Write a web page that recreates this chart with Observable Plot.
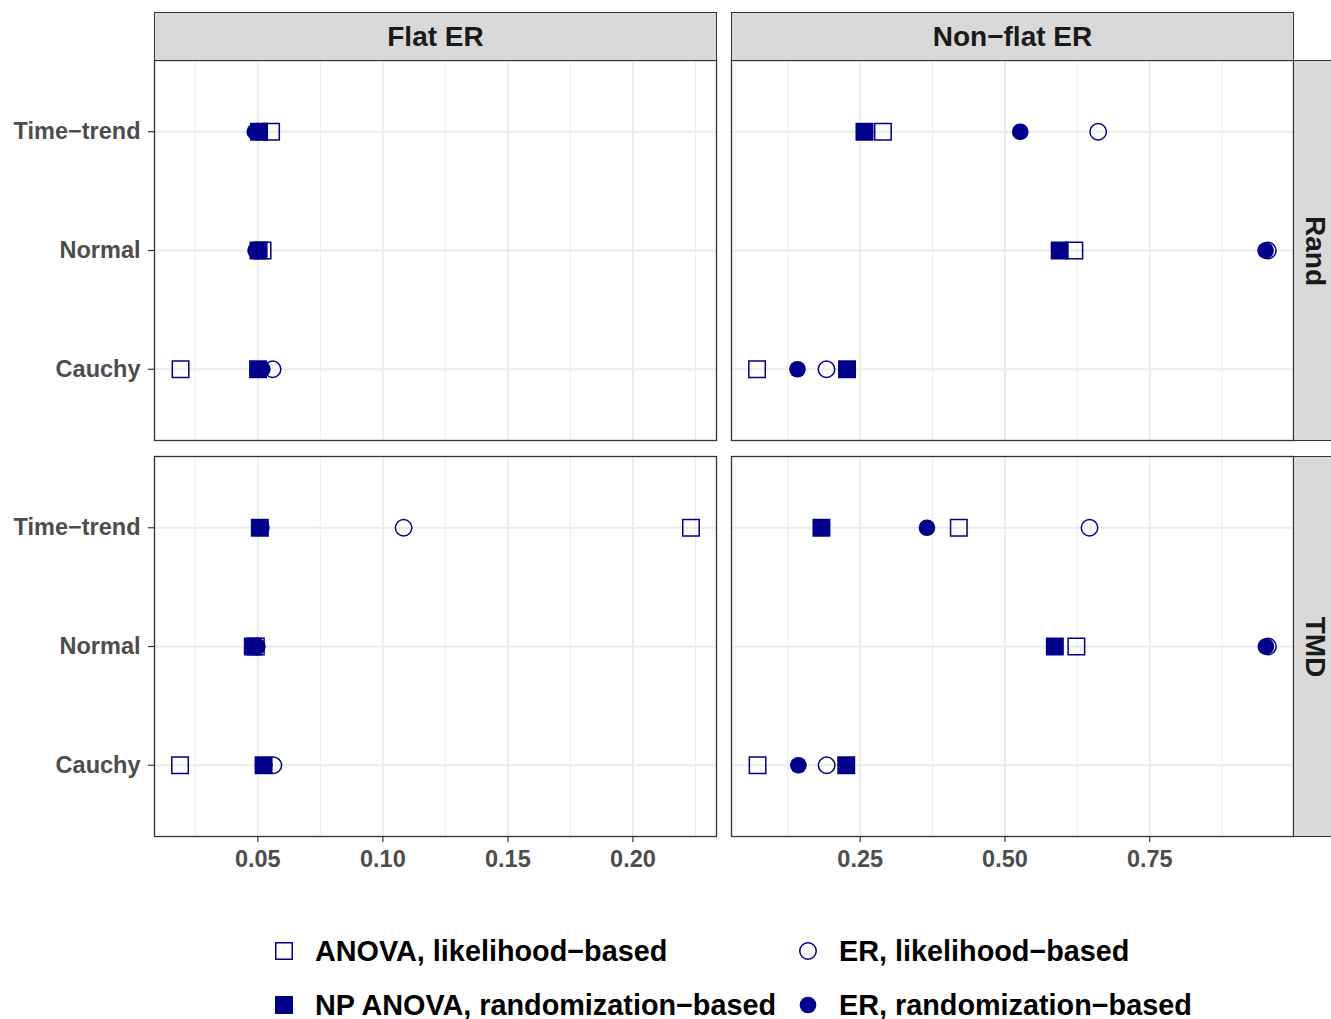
<!DOCTYPE html>
<html>
<head>
<meta charset="utf-8">
<script src="https://cdn.jsdelivr.net/npm/d3@7"></script>
<script src="https://cdn.jsdelivr.net/npm/@observablehq/plot@0.6"></script>
<style>
  html, body { margin: 0; padding: 0; background: #fff; }
  #root { position: relative; width: 1331px; height: 1019px; overflow: hidden; background: #fff;
          font-family: "Liberation Sans", Arial, Helvetica, sans-serif; }
  .abs { position: absolute; }
  .strip { position: absolute; box-sizing: border-box; background: #D9D9D9; border: 1.3px solid #333;
           display: flex; align-items: center; justify-content: center;
           font-weight: bold; font-size: 28px; color: #1A1A1A; }
  .strip.v { padding-left: 4px; }
  .strip.v span { display: inline-block; transform: rotate(90deg); white-space: nowrap; line-height: 1; }
  .leg { position: absolute; display: flex; align-items: center; height: 40px;
         font-weight: bold; font-size: 28.8px; color: #000; white-space: nowrap; }
  .leg svg { flex: none; }
  .leg span { margin-left: 22px; }
</style>
</head>
<body>
<div id="root"></div>
<script>
// ---------- data ----------
const designs = ["Flat ER", "Non\u2212flat ER"];
const mechanisms = ["Rand", "TMD"];
const distributions = ["Time\u2212trend", "Normal", "Cauchy"];
const methods = [
  "ANOVA, likelihood\u2212based",
  "ER, likelihood\u2212based",
  "NP ANOVA, randomization\u2212based",
  "ER, randomization\u2212based"
];

// values ordered as distributions: [Time−trend, Normal, Cauchy]
const flatRand_anova   = [0.0553, 0.0519, 0.0191];
const flatRand_erLik   = [0.0500, 0.0497, 0.0559];
const flatRand_npAnova = [0.0505, 0.0503, 0.0501];
const flatRand_erRand  = [0.0488, 0.0491, 0.0518];

const flatTMD_anova   = [0.2232, 0.0492, 0.0189];
const flatTMD_erLik   = [0.1083, 0.0494, 0.0562];
const flatTMD_npAnova = [0.0508, 0.0480, 0.0523];
const flatTMD_erRand  = [0.0514, 0.0498, 0.0526];

const nonflatRand_anova   = [0.2893, 0.6198, 0.0719];
const nonflatRand_erLik   = [0.6609, 0.9538, 0.1918];
const nonflatRand_npAnova = [0.2574, 0.5945, 0.2273];
const nonflatRand_erRand  = [0.5264, 0.9500, 0.1417];

const nonflatTMD_anova   = [0.4203, 0.6233, 0.0728];
const nonflatTMD_erLik   = [0.6460, 0.9541, 0.1921];
const nonflatTMD_npAnova = [0.1831, 0.5861, 0.2259];
const nonflatTMD_erRand  = [0.3653, 0.9505, 0.1433];

const flatTicks = [0.05, 0.10, 0.15, 0.20];
const flatMinor = [0.025, 0.075, 0.125, 0.175, 0.225];
const nonflatTicks = [0.25, 0.50, 0.75];
const nonflatMinor = [0.125, 0.375, 0.625, 0.875];

// ---------- table ----------
const series = {
  "Flat ER|Rand": [flatRand_anova, flatRand_erLik, flatRand_npAnova, flatRand_erRand],
  "Flat ER|TMD": [flatTMD_anova, flatTMD_erLik, flatTMD_npAnova, flatTMD_erRand],
  [designs[1] + "|Rand"]: [nonflatRand_anova, nonflatRand_erLik, nonflatRand_npAnova, nonflatRand_erRand],
  [designs[1] + "|TMD"]: [nonflatTMD_anova, nonflatTMD_erLik, nonflatTMD_npAnova, nonflatTMD_erRand]
};
const rows = [];
for (const design of designs) for (const mechanism of mechanisms) {
  series[design + "|" + mechanism].forEach((vals, mi) => {
    vals.forEach((value, di) => rows.push({design, mechanism, method: methods[mi], distribution: distributions[di], value}));
  });
}
// ggplot-like 5% expansion of each column's x range
const domains = designs.map(design => {
  const [a, b] = d3.extent(rows.filter(r => r.design === design), r => r.value);
  const e = (b - a) * 0.05;
  return [a - e, b + e];
});
const majors = [flatTicks, nonflatTicks];
const minors = [flatMinor, nonflatMinor];

// ---------- layout ----------
const NAVY = "#00008B";
const colX = [[154, 716], [731, 1293]];
const rowY = [[60, 440], [456, 836]];
const symbolStyles = [
  {symbol: "square", r: 9.3, fill: "none", stroke: NAVY, strokeWidth: 1.5},
  {symbol: "circle", r: 8.25, fill: "none", stroke: NAVY, strokeWidth: 1.5},
  {symbol: "square", r: 10.15, fill: NAVY},
  {symbol: "circle", r: 8.35, fill: NAVY}
];
const FONT = "'Liberation Sans', Arial, Helvetica, sans-serif";
const root = document.getElementById("root");

function panel(ci, ri) {
  const design = designs[ci], mech = mechanisms[ri];
  const [px0, px1] = colX[ci], [py0, py1] = rowY[ri];
  const mL = ci === 0 ? 154 : 2, mR = 2, mT = 2, mB = ri === 1 ? 50 : 2;
  const data = rows.filter(d => d.design === design && d.mechanism === mech);
  const marks = [
    Plot.gridX(minors[ci], {stroke: "#EBEBEB", strokeOpacity: 1, strokeWidth: 0.9}),
    Plot.gridX(majors[ci], {stroke: "#EBEBEB", strokeOpacity: 1, strokeWidth: 1.8}),
    Plot.gridY(distributions, {stroke: "#EBEBEB", strokeOpacity: 1, strokeWidth: 1.8}),
    ...methods.map((m, i) => Plot.dot(data.filter(d => d.method === m), {x: "value", y: "distribution", ...symbolStyles[i]})),
    Plot.frame({stroke: "#333", strokeWidth: 1.3})
  ];
  if (ci === 0) {
    marks.push(
      Plot.axisY({tickSize: 6, stroke: "#333", strokeWidth: 1.2, text: null}),
      Plot.axisY({tickSize: 0, tickPadding: 14, fontSize: 23.5, fontWeight: "bold", fill: "#4D4D4D"})
    );
  }
  if (ri === 1) {
    marks.push(
      Plot.axisX(majors[ci], {tickSize: 6, stroke: "#333", strokeWidth: 1.2, text: null}),
      Plot.axisX(majors[ci], {tickSize: 0, tickPadding: 14, tickFormat: d3.format(".2f"), fontSize: 23.5, fontWeight: "bold", fill: "#4D4D4D"})
    );
  }
  const svg = Plot.plot({
    width: px1 - px0 + mL + mR,
    height: py1 - py0 + mT + mB,
    marginLeft: mL, marginRight: mR, marginTop: mT, marginBottom: mB,
    style: {fontFamily: FONT, background: "transparent", overflow: "visible"},
    x: {domain: domains[ci], label: null, ...(ri === 0 ? {axis: null} : {})},
    y: {type: "point", domain: distributions, padding: 0.6, round: false, label: null, ...(ci === 1 ? {axis: null} : {})},
    marks
  });
  const wrap = document.createElement("div");
  wrap.className = "abs";
  wrap.style.left = (px0 - mL) + "px";
  wrap.style.top = (py0 - mT) + "px";
  wrap.appendChild(svg);
  root.appendChild(wrap);
}
for (let ci = 0; ci < 2; ci++) for (let ri = 0; ri < 2; ri++) panel(ci, ri);

// strips
designs.forEach((d, ci) => {
  const s = document.createElement("div");
  s.className = "strip";
  s.style.left = colX[ci][0] + "px";
  s.style.top = "12px";
  s.style.width = (colX[ci][1] - colX[ci][0] + 1) + "px";
  s.style.height = "49px";
  s.textContent = d;
  root.appendChild(s);
});
mechanisms.forEach((m, ri) => {
  const s = document.createElement("div");
  s.className = "strip v";
  s.style.left = "1293px";
  s.style.top = rowY[ri][0] + "px";
  s.style.width = "40px";
  s.style.height = (rowY[ri][1] - rowY[ri][0] + 1) + "px";
  const sp = document.createElement("span");
  sp.textContent = m;
  s.appendChild(sp);
  root.appendChild(s);
});

// legend (two columns, two rows)
const legendPos = [[275, 951], [275, 1005], [799, 951], [799, 1005]];
const legendOrder = [0, 2, 1, 3];
legendOrder.forEach((mi, k) => {
  const [lx, ly] = legendPos[k];
  const st = symbolStyles[mi];
  const item = document.createElement("div");
  item.className = "leg";
  item.style.left = lx + "px";
  item.style.top = (ly - 20) + "px";
  const ns = "http://www.w3.org/2000/svg";
  const sv = document.createElementNS(ns, "svg");
  sv.setAttribute("width", 18); sv.setAttribute("height", 18);
  sv.style.overflow = "visible";
  const sym = d3.symbol(st.symbol === "square" ? d3.symbolSquare : d3.symbolCircle, st.r * st.r * Math.PI)();
  const p = document.createElementNS(ns, "path");
  p.setAttribute("d", sym);
  p.setAttribute("transform", "translate(9,9)");
  p.setAttribute("fill", st.fill);
  if (st.stroke) { p.setAttribute("stroke", st.stroke); p.setAttribute("stroke-width", st.strokeWidth); }
  sv.appendChild(p);
  item.appendChild(sv);
  const sp = document.createElement("span");
  sp.textContent = methods[mi];
  item.appendChild(sp);
  root.appendChild(item);
});
</script>
</body>
</html>
